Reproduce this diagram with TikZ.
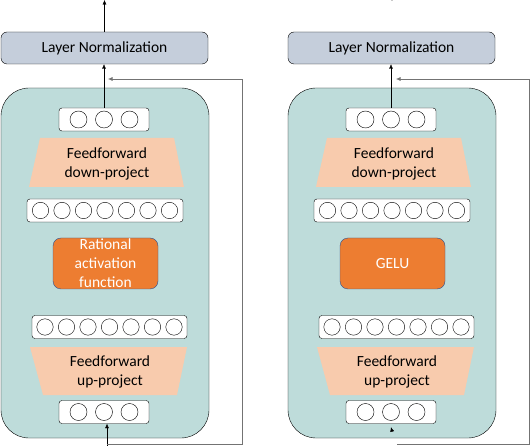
\documentclass[tikz,border=0pt]{standalone}
\usepackage{fontspec}
\setmainfont{Carlito}
\usepackage{tikz}
\usetikzlibrary{arrows.meta}

\definecolor{normcol}{HTML}{C5CEDB}
\definecolor{panelcol}{HTML}{BEDCDA}
\definecolor{ffcol}{HTML}{F8CBAD}
\definecolor{actcol}{HTML}{ED7D31}
\definecolor{actline}{HTML}{2F528F}

\begin{document}
\begin{tikzpicture}[x=1pt,y=1pt,yscale=-1,xscale=1,
  every node/.style={font=\fontsize{15.5}{19}\selectfont, align=center},
  normbox/.style={draw=black, fill=normcol, rounded corners=6pt, minimum width=207pt, minimum height=32pt, inner sep=0pt},
  panelbox/.style={draw=black, fill=panelcol, rounded corners=28pt, minimum width=208pt, minimum height=350pt, inner sep=0pt},
  vecbox/.style={draw=black, fill=white, rounded corners=3pt, minimum height=23pt, inner sep=0pt},
  actbox/.style={draw=actline, fill=actcol, text=white, rounded corners=8pt, minimum width=105pt, minimum height=51pt, inner sep=0pt},
  arr/.style={-{Latex[length=4.5pt,width=4pt]}},
  res/.style={draw=black!55, line width=0.6pt, arr}]
\useasboundingbox (0,0) rectangle (530,446);

%%%%%%%%%%%%%%%%%%%% left panel
%Shape: Container
\node[panelbox] (contL) at (105,263) {};
%Shape: Layer norm
\node[normbox] (normL) at (104.5,48) {Layer Normalization};
%Shape: Trapezoids
\fill[ffcol] (40,138) -- (174,138) -- (184,187) -- (29,187) -- cycle;
\fill[ffcol] (30,347) -- (187,347) -- (177,395) -- (43,395) -- cycle;
% Text Node
\node (ffdL) at (107,164) {Feedforward\\down-project};
\node (ffuL) at (110,372) {Feedforward\\up-project};
%Shape: Vectors
\node[vecbox, minimum width=90pt] (voutL) at (104,119.5) {};
\node[vecbox, minimum width=156pt] (hidL) at (105,210.5) {};
\node[vecbox, minimum width=155pt] (hidbL) at (109.5,327) {};
\node[vecbox, minimum width=90pt] (vinL) at (104,412) {};
\foreach \i in {-1,0,1} {
  \draw (voutL.center) ++(\i*25.5,0) circle (8.5);
  \draw (vinL.center) ++(\i*25.5,0) circle (8.5);
}
\foreach \i in {-3,...,3} {
  \draw (hidL.center) ++(\i*21.5,0) circle (8.2);
  \draw (hidbL.center) ++(\i*21.5,0) circle (8.2);
}
%Shape: Activation
\node[actbox] (actL) at (105.5,263.5) {Rational\\activation\\function};
%Arrows
\coordinate (outL) at (104.5,0);
\coordinate (inL) at (107,446);
\coordinate (brL) at (107,444);
\coordinate (rsL) at (242,79);
\draw[arr] (normL.north) -- (outL);
\draw[arr] (voutL.north) -- (voutL.north |- normL.south);
\draw[arr] (inL) -- (inL |- vinL.south);
\draw[res] (brL) -| (rsL) -- ([xshift=4pt]voutL.north |- rsL);

%%%%%%%%%%%%%%%%%%%% right panel
%Shape: Container
\node[panelbox] (contR) at (392,263) {};
%Shape: Layer norm
\node[normbox] (normR) at (391.5,48) {Layer Normalization};
%Shape: Trapezoids
\fill[ffcol] (327,138) -- (461,138) -- (471,187) -- (316,187) -- cycle;
\fill[ffcol] (317,347) -- (474,347) -- (464,395) -- (330,395) -- cycle;
% Text Node
\node (ffdR) at (394,164) {Feedforward\\down-project};
\node (ffuR) at (397,372) {Feedforward\\up-project};
%Shape: Vectors
\node[vecbox, minimum width=90pt] (voutR) at (391,119.5) {};
\node[vecbox, minimum width=156pt] (hidR) at (392,210.5) {};
\node[vecbox, minimum width=155pt] (hidbR) at (396.5,327) {};
\node[vecbox, minimum width=90pt] (vinR) at (391,412) {};
\foreach \i in {-1,0,1} {
  \draw (voutR.center) ++(\i*25.5,0) circle (8.5);
  \draw (vinR.center) ++(\i*25.5,0) circle (8.5);
}
\foreach \i in {-3,...,3} {
  \draw (hidR.center) ++(\i*21.5,0) circle (8.2);
  \draw (hidbR.center) ++(\i*21.5,0) circle (8.2);
}
%Shape: Activation
\node[actbox] (actR) at (392.5,263.5) {GELU};
%Arrows
\coordinate (outR) at (392,1);
\coordinate (inR) at (392,431);
\coordinate (brR) at (397,444);
\coordinate (rsR) at (529,79);
\draw[arr] ([yshift=-4.6pt]outR) -- (outR);
\draw[arr] (voutR.north) -- (voutR.north |- normR.south);
\draw[arr] (inR) -- ([yshift=3.5pt]vinR.south);
\draw[res] (brR) -| (rsR) -- ([xshift=5pt]voutR.north |- rsR);

\end{tikzpicture}
\end{document}
